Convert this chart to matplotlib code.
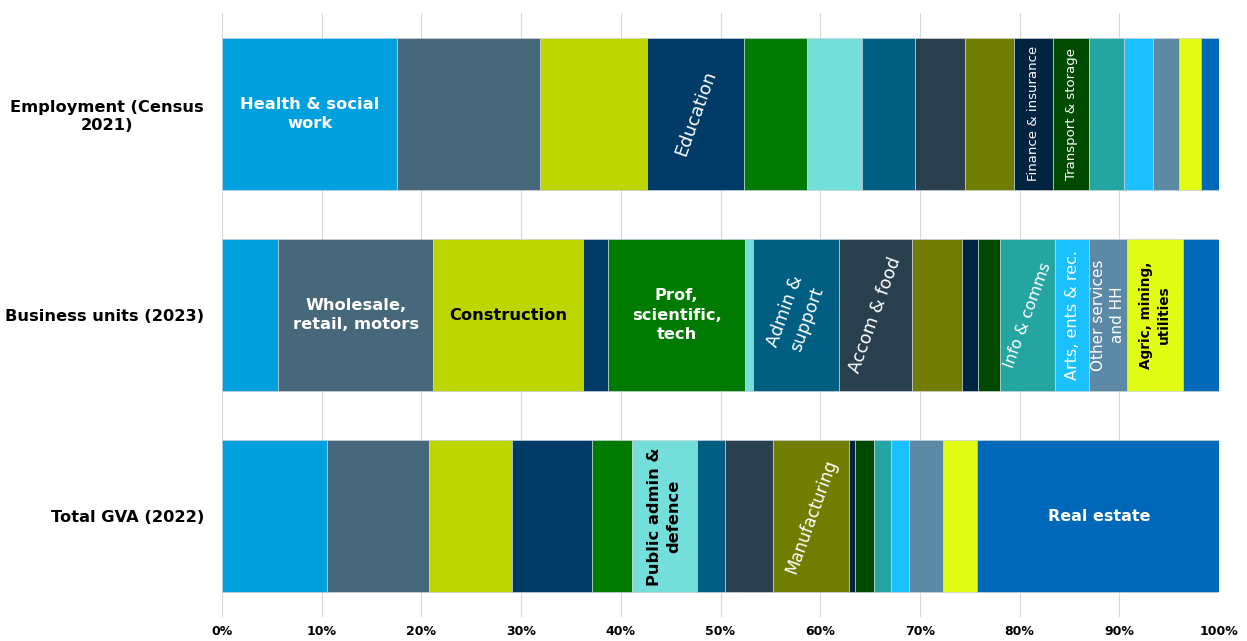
import matplotlib
matplotlib.use("Agg")
import matplotlib.pyplot as plt
import numpy as np

plt.rcParams['font.family'] = ['DejaVu Sans']

# ---- data ----
rows = ["Employment (Census\n2021)", "Business units (2023)", "Total GVA (2022)"]
sectors = ["Health & social work", "Wholesale, retail, motors", "Construction", "Education",
           "Prof, scientific, tech", "Public admin & defence", "Admin & support", "Accom & food",
           "Manufacturing", "Finance & insurance", "Transport & storage", "Info & comms",
           "Arts, ents & rec.", "Other services and HH", "Agric, mining, utilities", "Real estate"]
employment = [17.6, 14.3, 10.7, 9.8, 6.3, 5.5, 5.3, 5.0, 4.9, 4.0, 3.6, 3.5, 2.9, 2.6, 2.2, 1.8]
business = [5.6, 15.6, 15.0, 2.5, 13.8, 0.8, 8.6, 7.3, 5.0, 1.6, 2.2, 5.6, 3.4, 3.8, 5.6, 3.6]
gva = [10.5, 10.3, 8.3, 8.0, 4.0, 6.5, 2.9, 4.8, 7.6, 0.6, 1.9, 1.7, 1.8, 3.4, 3.4, 24.5]
colors = ["#00A0DF", "#46687A", "#BED600", "#003A66", "#007A00", "#74DFDA", "#005E82", "#2A3F4D",
          "#707D00", "#00233F", "#004A00", "#25A5A2", "#1BC1FF", "#5B89A6", "#E1FD16", "#0068B8"]
xticks = [0, 10, 20, 30, 40, 50, 60, 70, 80, 90, 100]

# in-bar labels: (row index, sector index, text, rotation, colour, weight, size)
labels = [
    (0, 0, "Health & social\nwork", 0, "white", "bold", 11.7),
    (0, 3, "Education", 70, "white", "normal", 13),
    (0, 9, "Finance & insurance", 90, "white", "normal", 9.5),
    (0, 10, "Transport & storage", 90, "white", "normal", 9.5),
    (1, 1, "Wholesale,\nretail, motors", 0, "white", "bold", 11.7),
    (1, 2, "Construction", 0, "black", "bold", 11.7),
    (1, 4, "Prof,\nscientific,\ntech", 0, "white", "bold", 11.7),
    (1, 6, "Admin &\nsupport", 70, "white", "normal", 12.5),
    (1, 7, "Accom & food", 70, "white", "normal", 12.5),
    (1, 11, "Info & comms", 70, "white", "normal", 11.5),
    (1, 12, "Arts, ents & rec.", 90, "white", "normal", 11.5),
    (1, 13, "Other services\nand HH", 90, "white", "normal", 11),
    (1, 14, "Agric, mining,\nutilities", 90, "black", "bold", 9.8),
    (2, 5, "Public admin &\ndefence", 90, "black", "bold", 11.7),
    (2, 8, "Manufacturing", 70, "white", "normal", 12),
    (2, 15, "Real estate", 0, "white", "bold", 11.5),
]

data = np.array([employment, business, gva])

fig = plt.figure(figsize=(12.47, 6.41), dpi=100)
ax = fig.add_axes([222/1247, 1 - 617/641, (1219 - 222)/1247, (617 - 13)/641])

ypos = np.arange(len(rows))
lefts = np.zeros(len(rows))
bars = []
for j, s in enumerate(sectors):
    b = ax.barh(ypos, data[:, j], left=lefts, height=0.755, color=colors[j],
                edgecolor="#c8d0d8", linewidth=0.5, zorder=3)
    bars.append(b)
    lefts = lefts + data[:, j]

for (r, s, txt, rot, col, wt, sz) in labels:
    rect = bars[s][r]
    cx = rect.get_x() + rect.get_width() / 2
    cy = rect.get_y() + rect.get_height() / 2
    ax.text(cx, cy, txt, rotation=rot, color=col, fontweight=wt, fontsize=sz,
            ha="center", va="center", multialignment="center", zorder=4,
            rotation_mode="anchor", linespacing=1.35)

ax.set_xlim(0, 100)
ax.set_ylim(2.5, -0.5)
ax.set_xticks(xticks)
ax.set_xticklabels([f"{t}%" for t in xticks], fontweight="bold", fontsize=9)
ax.set_yticks(ypos)
ax.set_yticklabels(rows, fontweight="bold", fontsize=11.7, multialignment="center")
ax.tick_params(axis="both", length=0)
ax.tick_params(axis="x", pad=5.5)
ax.tick_params(axis="y", pad=13)
ax.grid(axis="x", color="#d9d9d9", linewidth=0.8, zorder=0)
ax.set_axisbelow(True)
for sp in ax.spines.values():
    sp.set_visible(False)

fig.savefig("out.png", dpi=100)
